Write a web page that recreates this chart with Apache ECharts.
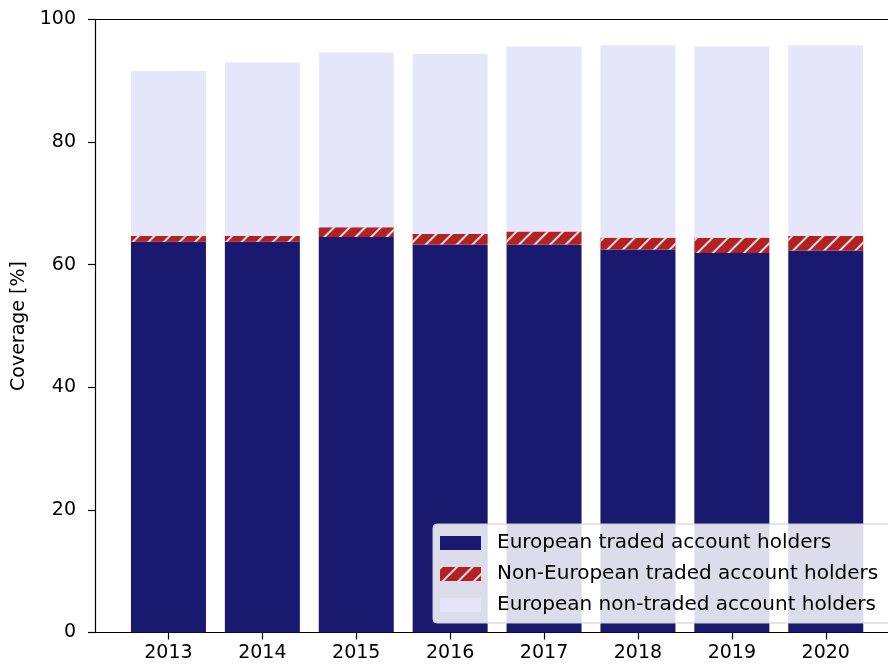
<!DOCTYPE html>
<html>
<head>
<meta charset="utf-8">
<script src="https://cdn.jsdelivr.net/npm/echarts@6/dist/echarts.min.js"></script>
<style>
    html, body { margin: 0; padding: 0; background: #fff; }
    #contain { width: 888px; height: 664px; }
</style>
</head>
<body>
<div id="contain"></div>
<script>
    // 年份与各部分覆盖率(%)
    var years = ['2013', '2014', '2015', '2016', '2017', '2018', '2019', '2020'];
    var euTraded = [63.75, 63.75, 64.5, 63.3, 63.3, 62.5, 61.9, 62.3];
    var nonEuTraded = [0.95, 0.95, 1.6, 1.7, 2.1, 1.9, 2.5, 2.4];
    var euNonTraded = [26.9, 28.3, 28.5, 29.4, 30.2, 31.4, 31.2, 31.1];
    var yTicks = [0, 20, 40, 60, 80, 100];

    var font = 'DejaVu Sans';
    var plotTop = 19.5;
    var plotBottom = 31.5;
    var spine = { show: true, lineStyle: { color: '#000', width: 1.2 } };

    var option = {
        animation: false,
        textStyle: { fontFamily: font },
        legend: {
            orient: 'vertical',
            left: 433,
            top: 524,
            padding: [9, 40, 8, 7],
            icon: 'rect',
            itemWidth: 41,
            itemHeight: 14,
            itemGap: 11,
            backgroundColor: 'rgba(255,255,255,0.85)',
            borderColor: '#cccccc',
            borderWidth: 1,
            borderRadius: 4,
            textStyle: { fontFamily: font, fontSize: 20, color: '#000', padding: [0, 0, 0, 11] },
            data: ['European traded account holders', 'Non-European traded account holders', 'European non-traded account holders']
        },
        grid: [{
            // 外框
            left: 95,
            right: 0,
            top: plotTop,
            bottom: plotBottom
        }, {
            // 柱子区域
            left: 121.5,
            right: 15.3,
            top: plotTop,
            bottom: plotBottom
        }],
        xAxis: [{
            gridIndex: 0,
            type: 'value',
            min: 0,
            max: 1,
            position: 'bottom',
            axisLine: spine,
            axisTick: { show: false },
            axisLabel: { show: false },
            splitLine: { show: false }
        }, {
            gridIndex: 1,
            type: 'category',
            data: years,
            boundaryGap: true,
            axisLine: { show: false },
            axisTick: { show: true, alignWithLabel: true, length: 7, lineStyle: { color: '#000', width: 1.2 } },
            axisLabel: { fontFamily: font, fontSize: 19, color: '#000', margin: 11 }
        }, {
            gridIndex: 0,
            type: 'value',
            min: 0,
            max: 1,
            position: 'top',
            axisLine: spine,
            axisTick: { show: false },
            axisLabel: { show: false },
            splitLine: { show: false }
        }],
        yAxis: [{
            gridIndex: 0,
            type: 'value',
            min: 0,
            max: 100,
            interval: 20,
            name: 'Coverage [%]',
            nameLocation: 'middle',
            nameGap: 64,
            nameTextStyle: { fontFamily: font, fontSize: 19, color: '#000' },
            axisLine: spine,
            axisTick: { show: true, length: 7, lineStyle: { color: '#000', width: 1.2 } },
            axisLabel: {
                fontFamily: font, fontSize: 19, color: '#000', margin: 19,
                formatter: function (v) { return yTicks.indexOf(v) > -1 ? String(v) : ''; }
            },
            splitLine: { show: false }
        }, {
            gridIndex: 1,
            type: 'value',
            min: 0,
            max: 100,
            show: false,
            splitLine: { show: false }
        }],
        series: [{
            name: 'European traded account holders',
            type: 'bar',
            xAxisIndex: 1,
            yAxisIndex: 1,
            stack: 'cov',
            barWidth: 75,
            itemStyle: { color: '#191970' },
            data: euTraded
        }, {
            name: 'Non-European traded account holders',
            type: 'bar',
            xAxisIndex: 1,
            yAxisIndex: 1,
            stack: 'cov',
            barWidth: 75,
            itemStyle: {
                color: '#b22222',
                decal: {
                    symbol: 'rect',
                    symbolSize: 1,
                    color: 'rgba(255,255,255,0.85)',
                    dashArrayX: [1, 0],
                    dashArrayY: [2, 9],
                    rotation: -Math.PI / 4
                }
            },
            data: nonEuTraded
        }, {
            name: 'European non-traded account holders',
            type: 'bar',
            xAxisIndex: 1,
            yAxisIndex: 1,
            stack: 'cov',
            barWidth: 75,
            itemStyle: { color: '#e6e6fa' },
            data: euNonTraded
        }]
    };

    var myChart = echarts.init(document.getElementById('contain'), null, { renderer: 'canvas' });
    myChart.setOption(option);
</script>
</body>
</html>
